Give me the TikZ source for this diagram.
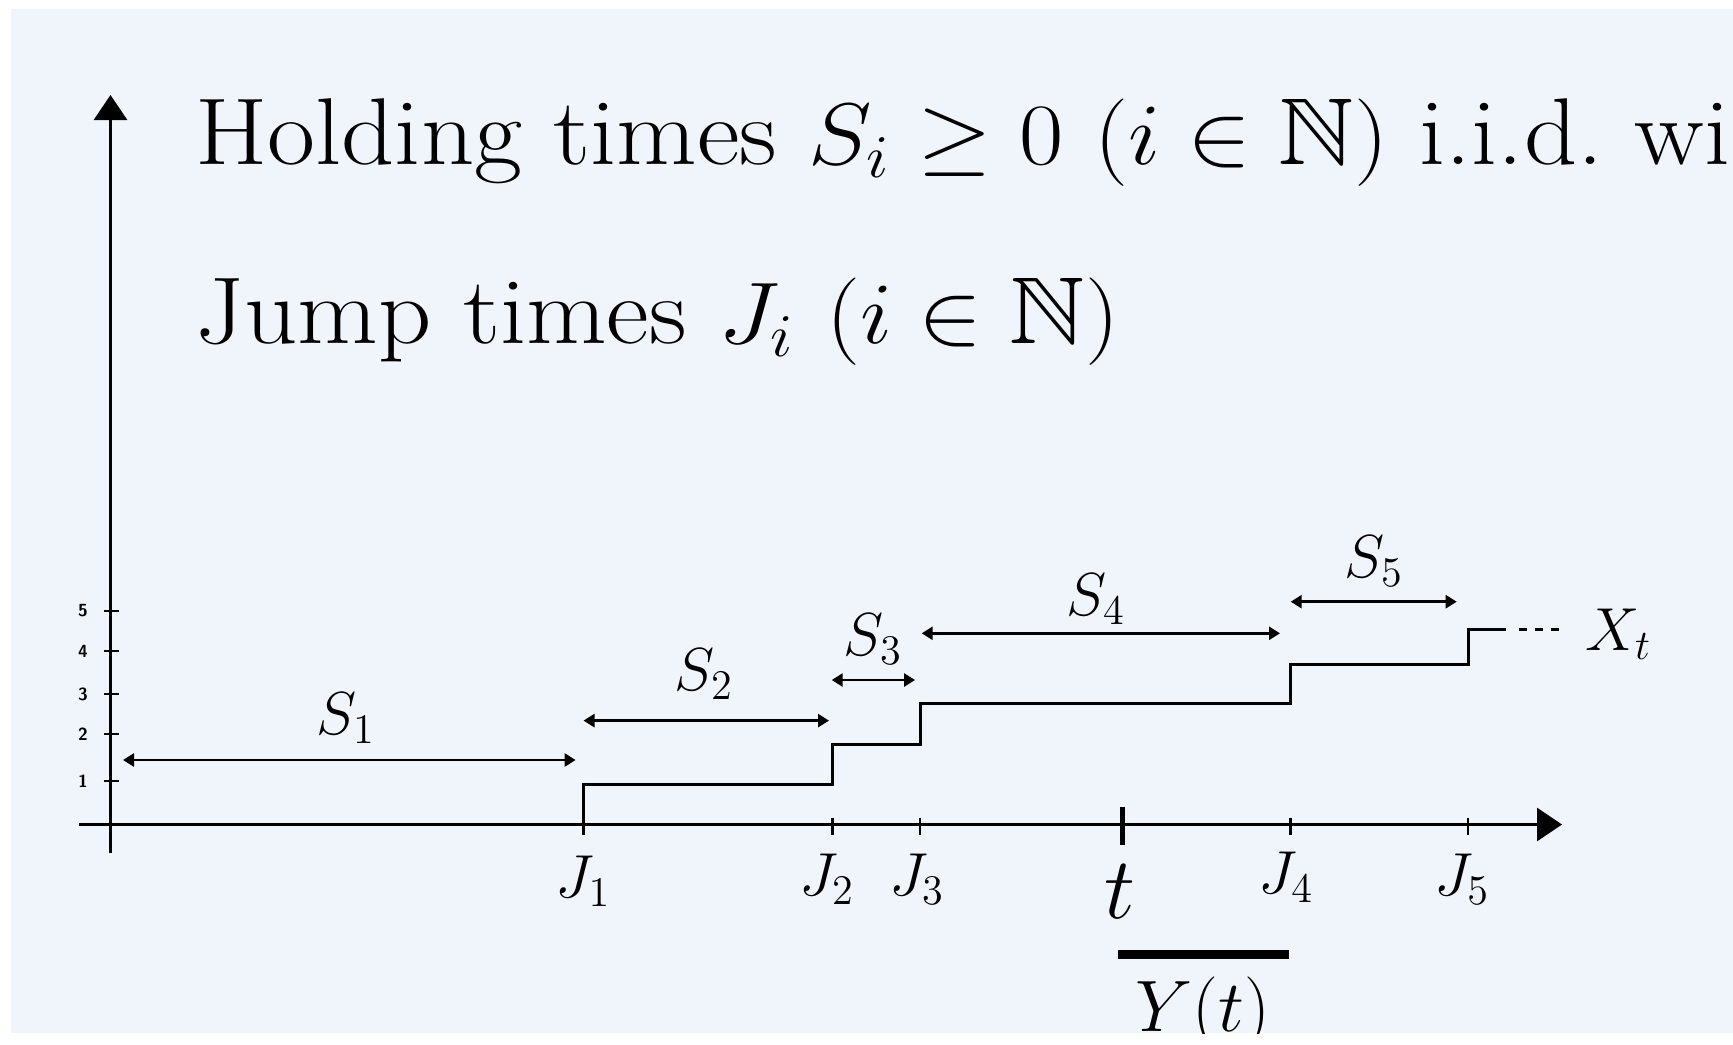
\documentclass[tikz,border=0pt]{standalone}
\usepackage{amsmath,amssymb}
\usetikzlibrary{arrows.meta}
\definecolor{slidebg}{RGB}{240,245,252}

\begin{document}
\begin{tikzpicture}[scale=1.0,
  axisline/.style={line width=0.85pt,-{Triangle[length=2.5mm,width=3.3mm]}},
  holdarrow/.style={line width=0.75pt,{Triangle[length=1.1mm,width=1.3mm]}-{Triangle[length=1.1mm,width=1.3mm]}},
  plotlabel/.style={font=\fontsize{17}{19}\selectfont,inner sep=0pt},
  ticklabel/.style={font=\fontsize{5}{6}\selectfont\sffamily\bfseries,inner sep=0pt},
  headline/.style={anchor=base west,xscale=1.1,font=\fontsize{27}{32}\selectfont,inner sep=0pt}]
\useasboundingbox (-1.105,-2.195) rectangle (16.225,8.245);
\fill[slidebg] (-0.995,-2.085) rectangle (16.225,8.155);
\begin{scope}
  \clip (-0.995,-2.085) rectangle (16.225,8.155);
  % the two lines of text
  \node[headline] (hold) at (0.84,6.6) {Holding times $S_i\geq 0$ $(i\in\mathbb{N})$ i.i.d.\ wi};
  \node[headline] (jump) at (0.84,4.81) {Jump times $J_i$ $(i\in\mathbb{N})$};
  % axes
  \draw[axisline] (0,-0.285) -- (0,7.295);
  \draw[axisline] (-0.315,0) -- (14.515,0);
  \draw[line width=0.6pt] (-0.07,0.432) -- (0.08,0.432);
  \draw[line width=0.6pt] (-0.07,0.902) -- (0.08,0.902);
  \draw[line width=0.6pt] (-0.07,1.302) -- (0.08,1.302);
  \draw[line width=0.6pt] (-0.07,1.735) -- (0.08,1.735);
  \draw[line width=0.6pt] (-0.07,2.135) -- (0.08,2.135);
  \node[ticklabel] (lev1) at (-0.275,0.432) {1};
  \node[ticklabel] (lev2) at (-0.275,0.902) {2};
  \node[ticklabel] (lev3) at (-0.275,1.302) {3};
  \node[ticklabel] (lev4) at (-0.275,1.735) {4};
  \node[ticklabel] (lev5) at (-0.275,2.135) {5};
  % jump times
  \coordinate (J1) at (4.73,0);
  \coordinate (J2) at (7.22,0);
  \coordinate (J3) at (8.095,0);
  \coordinate (J4) at (11.80,0);
  \coordinate (J5) at (13.578,0);
  \coordinate (tnow) at (10.12,0);
  \draw[line width=0.6pt] ([yshift=0.7mm]J2) -- ([yshift=-1mm]J2);
  \draw[line width=0.6pt] ([yshift=0.7mm]J3) -- ([yshift=-1mm]J3);
  \draw[line width=0.6pt] ([yshift=0.7mm]J4) -- ([yshift=-1mm]J4);
  \draw[line width=0.6pt] ([yshift=0.7mm]J5) -- ([yshift=-1mm]J5);
  \draw[line width=1.4pt] ([yshift=1.8mm]tnow) -- ([yshift=-2mm]tnow);
  \node[plotlabel] (lJ1) at (4.73,-0.565) {$J_1$};
  \node[plotlabel] (lJ2) at (7.165,-0.545) {$J_2$};
  \node[plotlabel] (lJ3) at (8.065,-0.545) {$J_3$};
  \node[plotlabel] (lJ4) at (11.755,-0.53) {$J_4$};
  \node[plotlabel] (lJ5) at (13.515,-0.545) {$J_5$};
  \node[font=\fontsize{24}{26}\selectfont,inner sep=0pt] (lt) at (10.095,-0.67) {$t$};
  % the path X_t
  \draw[line width=0.85pt] (4.73,-0.1) -- (4.73,0.405) -- (7.22,0.405) -- (7.22,0.805)
    -- (8.095,0.805) -- (8.095,1.215) -- (11.80,1.215) -- (11.80,1.605)
    -- (13.578,1.605) -- (13.578,1.955) -- (13.955,1.955);
  \draw[line width=0.85pt,dash pattern=on 0.075cm off 0.085cm] (14.085,1.955) -- (14.512,1.955);
  \node[plotlabel,anchor=base west] (lX) at (14.745,1.745) {$X_t$};
  % holding times
  \draw[holdarrow] (0.125,0.645) -- (4.651,0.645);
  \draw[holdarrow] (4.73,1.039) -- (7.185,1.039);
  \draw[holdarrow] (7.212,1.445) -- (8.045,1.445);
  \draw[holdarrow] (8.112,1.912) -- (11.695,1.912);
  \draw[holdarrow] (11.802,2.228) -- (13.462,2.228);
  \node[plotlabel] (lS1) at (2.355,1.065) {$S_1$};
  \node[plotlabel] (lS2) at (5.935,1.505) {$S_2$};
  \node[plotlabel] (lS3) at (7.625,1.855) {$S_3$};
  \node[plotlabel] (lS4) at (9.855,2.255) {$S_4$};
  \node[plotlabel] (lS5) at (12.635,2.635) {$S_5$};
  % Y(t)
  \draw[line width=2.3pt] (10.075,-1.30) -- (11.785,-1.30);
  \node[font=\fontsize{19.5}{22}\selectfont,inner sep=0pt,anchor=base] (lY) at (10.925,-2.072) {$Y(t)$};
\end{scope}
\end{tikzpicture}
\end{document}
